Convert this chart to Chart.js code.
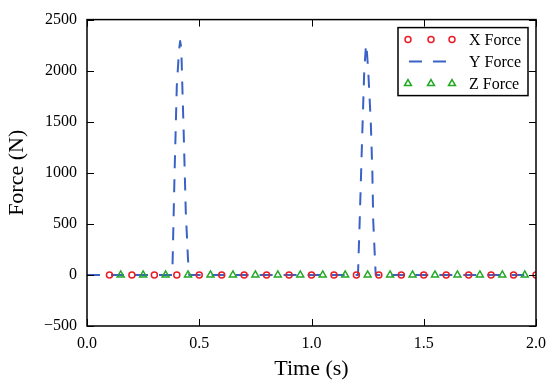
<!DOCTYPE html>
<html>
<head>
<meta charset="utf-8">
<script src="https://cdn.jsdelivr.net/npm/chart.js@4"></script>
<style>
  html, body { margin: 0; padding: 0; background: #fff; }
</style>
</head>
<body>
<canvas id="forceChart" width="558" height="390"></canvas>
<script>
// marker samples (every 0.1 s) for X and Z force
const xTimes = [0.1, 0.2, 0.3, 0.4, 0.5, 0.6, 0.7, 0.8, 0.9, 1.0, 1.1, 1.2, 1.3, 1.4, 1.5, 1.6, 1.7, 1.8, 1.9, 2.0];
const xForce = [0, 0, 0, 0, 0, 0, 0, 0, 0, 0, 0, 0, 0, 0, 0, 0, 0, 0, 0, 0];
const zTimes = [0.15, 0.25, 0.35, 0.45, 0.55, 0.65, 0.75, 0.85, 0.95, 1.05, 1.15, 1.25, 1.35, 1.45, 1.55, 1.65, 1.75, 1.85, 1.95];
const zForce = [0, 0, 0, 0, 0, 0, 0, 0, 0, 0, 0, 0, 0, 0, 0, 0, 0, 0, 0];
// Y force with the two impact peaks
const yTimes = [0.0, 0.38, 0.39, 0.40, 0.41, 0.415, 0.42, 0.425, 0.43, 0.44, 0.45, 0.455,
                1.207, 1.215, 1.225, 1.235, 1.243, 1.247, 1.253, 1.264, 1.271, 1.275, 1.283, 1.286, 2.0];
const yForce = [0, 0, 990, 1850, 2200, 2290, 2220, 1820, 1450, 620, 150, 0,
                0, 550, 1300, 2000, 2260, 2180, 1985, 1500, 1015, 530, 140, 0, 0];

const xTicks = [0.0, 0.5, 1.0, 1.5, 2.0];
const yTicks = [-500, 0, 500, 1000, 1500, 2000, 2500];

const RED = '#ec1c24';
const BLUE = '#3a62c6';
const GREEN = '#22a822';

Chart.defaults.font.family = "'Liberation Serif', 'Times New Roman', serif";
Chart.defaults.color = '#000';

function toPoints(ts, vs) {
    return ts.map((t, i) => ({ x: t, y: vs[i] }));
}

// box around plot with inward ticks on all four sides
const frameTicks = {
    id: 'frameTicks',
    afterDatasetsDraw(chart) {
        const { ctx, chartArea: a, scales: { x, y } } = chart;
        ctx.save();
        ctx.strokeStyle = '#000';
        ctx.lineWidth = 1;
        ctx.beginPath();
        xTicks.forEach(v => {
            const px = Math.round(x.getPixelForValue(v)) + 0.5;
            ctx.moveTo(px, a.bottom); ctx.lineTo(px, a.bottom - 7);
            ctx.moveTo(px, a.top); ctx.lineTo(px, a.top + 7);
        });
        yTicks.forEach(v => {
            const py = Math.round(y.getPixelForValue(v)) + 0.5;
            ctx.moveTo(a.left, py); ctx.lineTo(a.left + 7, py);
            ctx.moveTo(a.right, py); ctx.lineTo(a.right - 7, py);
        });
        ctx.stroke();
        ctx.lineWidth = 1.5;
        ctx.strokeRect(a.left, a.top, a.right - a.left, a.bottom - a.top);
        ctx.restore();
    }
};

function drawMarker(ctx, style, r, cx, cy) {
    ctx.beginPath();
    if (style === 'circle') {
        ctx.arc(cx, cy, r, 0, Math.PI * 2);
    } else {
        ctx.moveTo(cx, cy - r);
        ctx.lineTo(cx + r * Math.sin(Math.PI / 3), cy + r / 2);
        ctx.lineTo(cx - r * Math.sin(Math.PI / 3), cy + r / 2);
        ctx.closePath();
    }
    ctx.stroke();
}

// matplotlib-like legend with three markers per entry
const boxLegend = {
    id: 'boxLegend',
    afterDraw(chart) {
        const { ctx, chartArea: a } = chart;
        const bx = a.right - 138, by = a.top + 8, bw = 130, bh = 68;
        ctx.save();
        ctx.fillStyle = '#fff';
        ctx.fillRect(bx, by, bw, bh);
        ctx.strokeStyle = '#000';
        ctx.lineWidth = 1.5;
        ctx.strokeRect(bx, by, bw, bh);
        chart.data.datasets.forEach((ds, i) => {
            const cy = by + 12 + i * 22;
            ctx.strokeStyle = ds.borderColor;
            if (ds.showLine) {
                ctx.lineWidth = ds.borderWidth;
                ctx.setLineDash(ds.borderDash);
                ctx.beginPath();
                ctx.moveTo(bx + 11, cy);
                ctx.lineTo(bx + 48, cy);
                ctx.stroke();
                ctx.setLineDash([]);
            } else {
                ctx.lineWidth = ds.pointBorderWidth;
                [10, 33, 54].forEach(dx => drawMarker(ctx, ds.pointStyle, ds.pointRadius, bx + dx, cy));
            }
            ctx.fillStyle = '#000';
            ctx.font = "16px 'Liberation Serif', serif";
            ctx.textBaseline = 'middle';
            ctx.fillText(ds.label, bx + 71, cy + 1);
        });
        ctx.restore();
    }
};

new Chart(document.getElementById('forceChart'), {
    type: 'scatter',
    data: {
        datasets: [
            {
                label: 'X Force',
                data: toPoints(xTimes, xForce),
                showLine: false,
                pointStyle: 'circle',
                pointRadius: 3,
                pointBorderWidth: 1.5,
                borderColor: RED,
                backgroundColor: 'rgba(0,0,0,0)',
                order: 0
            },
            {
                label: 'Y Force',
                data: toPoints(yTimes, yForce),
                showLine: true,
                borderColor: BLUE,
                borderWidth: 2,
                borderDash: [13, 11],
                borderJoinStyle: 'round',
                pointRadius: 0,
                tension: 0,
                order: 1
            },
            {
                label: 'Z Force',
                data: toPoints(zTimes, zForce),
                showLine: false,
                pointStyle: 'triangle',
                pointRadius: 4,
                pointBorderWidth: 1.5,
                borderColor: GREEN,
                backgroundColor: 'rgba(0,0,0,0)',
                order: 0
            }
        ]
    },
    options: {
        responsive: false,
        animation: false,
        layout: { padding: { top: 17, right: 22, left: 0, bottom: 0 } },
        plugins: {
            legend: { display: false },
            tooltip: { enabled: false }
        },
        scales: {
            x: {
                type: 'linear',
                min: 0,
                max: 2,
                grid: { display: false, drawTicks: false },
                border: { display: false },
                afterBuildTicks: s => { s.ticks = xTicks.map(v => ({ value: v })); },
                afterFit: s => { s.height = 64; },
                ticks: {
                    font: { size: 16 },
                    padding: 8,
                    maxRotation: 0,
                    callback: v => Number(v).toFixed(1)
                },
                title: {
                    display: true,
                    text: 'Time (s)',
                    font: { size: 22 },
                    padding: { top: 4, bottom: 8 }
                }
            },
            y: {
                min: -500,
                max: 2500,
                grid: { display: false, drawTicks: false },
                border: { display: false },
                afterBuildTicks: s => { s.ticks = yTicks.map(v => ({ value: v })); },
                afterFit: s => { s.width = 87; },
                ticks: {
                    font: { size: 16 },
                    padding: 10,
                    callback: v => String(v).replace('-', '\u2212')
                },
                title: {
                    display: true,
                    text: 'Force (N)',
                    font: { size: 22 },
                    padding: { top: 4, bottom: 4 }
                }
            }
        }
    },
    plugins: [frameTicks, boxLegend]
});
</script>
</body>
</html>
